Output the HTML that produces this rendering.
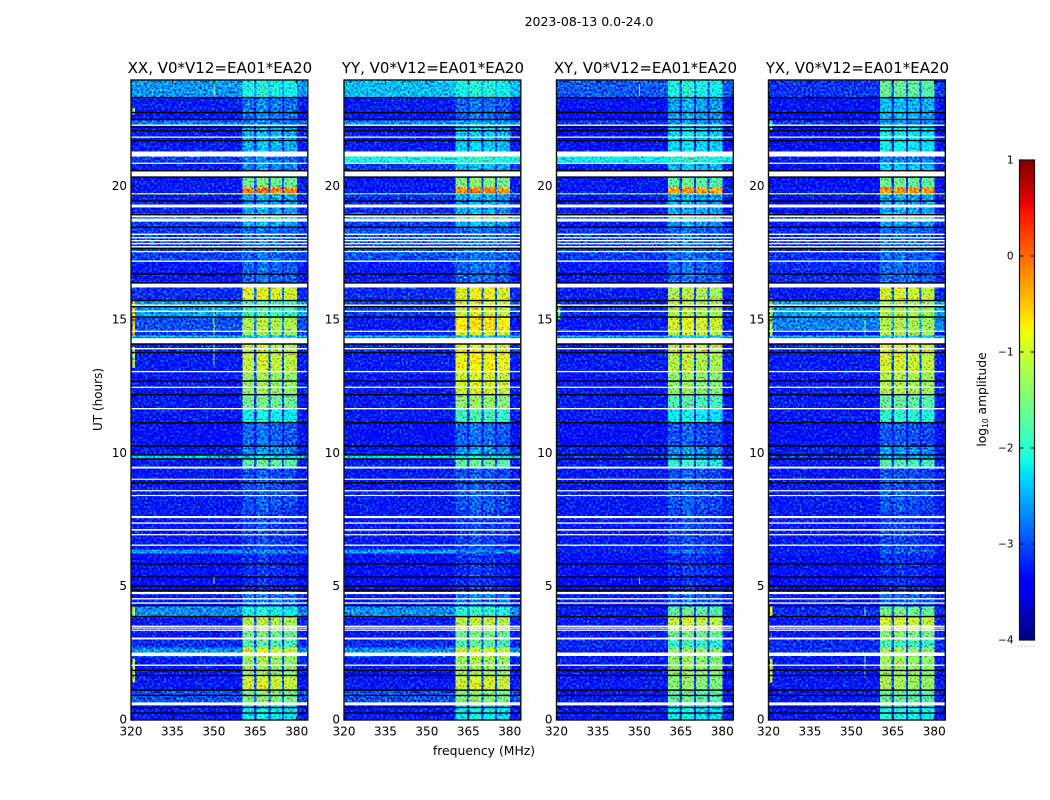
<!DOCTYPE html>
<html lang="en">
<head>
<meta charset="utf-8">
<title>2023-08-13 dynamic spectra</title>
<style>
html,body{margin:0;padding:0;background:#fff;width:1050px;height:800px;overflow:hidden}
svg{display:block}
text{font-family:"DejaVu Sans","Liberation Sans",sans-serif;fill:#000}
</style>
</head>
<body>
<svg id="figure" xmlns="http://www.w3.org/2000/svg" width="1050" height="800" viewBox="0 0 1050 800">
<defs>
<filter id="speckle" x="0" y="0" width="100%" height="100%" color-interpolation-filters="sRGB">
<feTurbulence type="fractalNoise" baseFrequency="0.48" numOctaves="1" seed="7" result="n"/>
<feColorMatrix in="n" type="matrix" values="0 0 0 0 0.5  1 0 0 0 0  0.5 0 0 0 0.25  0 0 0 0 1" result="m"/>
<feComposite in="SourceGraphic" in2="m" operator="arithmetic" k1="0" k2="1" k3="2" k4="-1"/>
</filter>
</defs>
<text x="589" y="26" text-anchor="middle" font-size="12.5">2023-08-13 0.0-24.0</text>
<text x="484" y="755" text-anchor="middle" font-size="12.4">frequency (MHz)</text>
<text transform="translate(102,399.5) rotate(-90)" text-anchor="middle" font-size="12">UT (hours)</text>
<text transform="translate(986,399.5) rotate(-90)" text-anchor="middle" font-size="12.3">log<tspan font-size="7.5" dy="2">10</tspan><tspan dy="-2"> amplitude</tspan></text>
</svg>
<script>
// ---- Data (log10 amplitude; hours and MHz) ----
const panelNames = ["XX", "YY", "XY", "YX"];
const panelTitleSuffix = ", V0*V12=EA01*EA20";
const xTicks = [320, 335, 350, 365, 380];
const yTicks = [0, 5, 10, 15, 20];
const colorbarTicks = [1, 0, -1, -2, -3, -4];

// time segment edges, top to bottom
const segmentHours = [24,23.34,22.48,22.29,21.13,20.90,20.34,19.97,19.74,18.99,18.80,18.50,17.23,16.22,15.73,15.09,14.60,14.42,14.34,13.74,13.03,12.17,11.64,11.15,10.25,9.92,9.77,9.47,7.86,6.39,6.24,4.86,4.26,3.84,3.36,2.98,2.72,2.38,1.63,1.11,0.66,0];

// off-band background level per segment, one array per product
const bgXX = [-2.65,-3.3,-2.8,-3.3,-3.1,-3.3,-3.3,-3.3,-3.3,-2.6,-3.1,-3.1,-3.3,-3.2,-2.6,-3.0,-3.1,-2.4,-3.2,-3.3,-3.3,-3.3,-3.3,-3.4,-3.3,-2.4,-3.3,-3.3,-3.3,-2.7,-3.4,-3.3,-2.7,-3.3,-3.3,-3.2,-2.7,-3.3,-3.3,-3.0,-3.3];
const bgYY = [-2.45,-3.3,-2.7,-3.3,-2.1,-3.1,-3.3,-3.3,-3.2,-2.4,-3.1,-3.0,-3.3,-3.2,-3.1,-3.3,-3.2,-2.4,-3.2,-3.3,-3.3,-3.3,-3.3,-3.4,-3.3,-2.3,-3.3,-3.3,-3.3,-2.6,-3.4,-3.3,-2.7,-3.3,-3.3,-3.2,-2.7,-3.3,-3.3,-3.0,-3.3];
const bgXY = [-2.95,-3.4,-3.1,-3.4,-2.2,-3.3,-3.3,-3.3,-3.3,-2.8,-3.3,-3.1,-3.3,-3.3,-3.2,-3.3,-3.3,-2.4,-3.3,-3.3,-3.3,-3.3,-3.3,-3.4,-3.3,-3.1,-3.3,-3.3,-3.3,-3.3,-3.4,-3.3,-3.3,-3.3,-3.3,-3.2,-3.3,-3.3,-3.3,-3.3,-3.3];
const bgYX = [-3.15,-3.4,-3.1,-3.4,-3.3,-3.4,-3.4,-3.3,-3.4,-2.9,-3.3,-3.2,-3.2,-3.3,-2.6,-2.75,-3.3,-2.4,-3.2,-3.3,-3.3,-3.3,-3.3,-3.4,-3.3,-3.1,-3.3,-3.3,-3.3,-3.3,-3.4,-3.3,-3.2,-3.3,-3.3,-3.2,-3.2,-3.3,-3.3,-3.3,-3.3];

// in-band level per segment (360–380 MHz block), one array per product
const bandXX = [-2.1,-2.8,-2.8,-2.5,-2.8,-2.7,-1.6,-0.1,-2.6,-1.8,-2.5,-2.9,-2.9,-1.0,-1.8,-1.2,-1.35,-2.4,-1.15,-1.1,-1.35,-1.6,-2.15,-2.9,-2.7,-2.3,-1.7,-3.0,-3.1,-2.8,-3.2,-2.8,-2.1,-1.2,-1.6,-1.8,-1.05,-1.35,-1.05,-1.5,-2.2];
const bandYY = [-2.1,-2.9,-2.6,-2.4,-2.0,-2.5,-1.5,-0.2,-2.6,-1.15,-2.5,-2.9,-2.9,-0.95,-1.05,-0.75,-1.0,-2.4,-0.95,-0.85,-1.05,-1.4,-1.9,-2.9,-2.7,-2.2,-1.7,-3.0,-3.1,-2.8,-3.2,-2.8,-2.0,-1.15,-1.6,-1.8,-1.05,-1.35,-1.05,-1.5,-2.2];
const bandXY = [-2.1,-2.6,-2.7,-2.3,-2.0,-2.5,-1.7,-0.3,-2.6,-1.7,-2.6,-2.9,-2.9,-1.25,-1.25,-1.0,-1.15,-2.4,-1.15,-1.2,-1.4,-1.8,-2.2,-3.0,-2.7,-2.6,-2.0,-3.0,-3.1,-2.9,-3.2,-2.9,-1.7,-1.1,-1.6,-2.0,-1.4,-1.4,-1.45,-1.7,-2.2];
const bandYX = [-1.7,-2.5,-2.7,-2.2,-2.8,-2.4,-1.65,-0.25,-2.6,-1.6,-2.6,-2.9,-2.9,-1.05,-1.25,-1.25,-1.25,-2.4,-1.05,-1.05,-1.25,-1.7,-2.0,-3.0,-2.7,-2.6,-1.8,-3.0,-3.1,-2.9,-3.2,-2.9,-1.6,-1.05,-1.5,-1.9,-1.35,-1.35,-1.3,-1.7,-2.1];

// sub-band offsets for the four 5 MHz blocks
const zoneOffsets = [[0,0.1,0,-0.05],[0,0.1,0.05,-0.05],[0,0.1,0,-0.05],[0.05,0.05,0,-0.05]];
const bandEdgesMHz = [[360.4,364.6],[365.5,369.7],[370.5,374.6],[375.4,380]];

// bright edge-of-band interference: [panel, hour from, hour to, level]
const edgeRfi = [
 [0,15.73,14.42,-0.5],[0,14.0,13.2,-1.1],[0,4.26,3.9,-1.0],[0,2.3,1.4,-1.0],[0,22.95,22.7,-1.2],
 [2,15.6,15.0,-1.6],
 [3,15.7,14.4,-1.2],[3,4.26,3.9,-0.8],[3,2.3,1.4,-1.0],[3,22.48,22.1,-1.8]
];
// thin vertical interference lines: [panel, MHz, hour from, hour to, level]
const vertRfi = [
 [0,350,15.6,14.4,-1.0],[0,350,14.1,13.3,-1.4],[0,350,5.4,5.1,-1.1],[0,350,24,23.4,-1.1],
 [2,350,24,23.4,-1.0],[2,350,5.4,5.1,-1.5],
 [3,355,15.1,14.4,-1.4],[3,355,2.5,1.6,-1.5],[3,355,4.3,3.9,-1.6]
];
// thin full-width interference rows: [panel, hour from, hour to, level]
const rowRfi = [[0,19.76,19.71,-1.0],[2,19.76,19.71,-1.5],[3,19.76,19.71,-1.0],[1,19.76,19.71,-1.9]];

// blank (no-data) rows, hours from/to
const blankRows = [[22.33,22.28],[21.88,21.84],[21.32,21.13],[20.90,20.86],[20.57,20.38],[19.33,19.22],[18.92,18.86],[18.80,18.69],[18.24,18.19],[18.11,18.06],[18.00,17.95],[17.89,17.84],[17.77,17.72],[17.59,17.54],[17.23,17.18],[16.37,16.22],[15.58,15.53],[15.35,15.30],[14.60,14.56],[14.32,14.12],[13.95,13.90],[13.09,13.04],[12.50,12.46],[11.70,11.65],[9.50,9.43],[9.05,9.01],[8.62,8.58],[8.44,8.40],[7.65,7.57],[7.41,7.36],[7.16,7.10],[6.97,6.93],[6.58,6.53],[4.80,4.72],[4.57,4.52],[4.41,4.36],[3.54,3.49],[3.47,3.43],[3.39,3.36],[3.09,3.02],[2.53,2.40],[2.08,2.03],[0.66,0.55]];
// dark flagged rows, hour centres
const darkRows = [23.34,22.78,22.52,22.23,22.10,21.73,20.60,20.36,19.46,18.95,18.48,17.68,16.72,16.39,15.73,15.50,15.11,14.10,13.78,12.71,12.20,11.15,10.27,9.94,9.79,8.90,5.85,5.36,5.02,4.86,4.29,3.88,1.86,1.67,1.12,0.92,0.47,0.26];

const bgByPanel = [bgXX, bgYY, bgXY, bgYX];
const bandByPanel = [bandXX, bandYY, bandXY, bandYX];

// ---- Layout and scales ----
const NS = "http://www.w3.org/2000/svg";
const svg = document.getElementById("figure");
const panelLeft = [131, 344, 556.5, 768.5];
const panelWidth = 176.8, plotTop = 80, plotBottom = 720;
const xMin = 320, xMax = 384, hMin = 0, hMax = 24;
const vMin = -4, vMax = 1;
function xScale(i, mhz){ return panelLeft[i] + (mhz - xMin) / (xMax - xMin) * panelWidth; }
function yScale(h){ return plotBottom - (h - hMin) / (hMax - hMin) * (plotBottom - plotTop); }
function lerpStops(stops, t){
  for (let k = 1; k < stops.length; k++) {
    if (t <= stops[k][0]) {
      const a = stops[k-1], b = stops[k];
      return a[1] + (b[1]-a[1]) * (t-a[0]) / (b[0]-a[0]);
    }
  }
  return stops[stops.length-1][1];
}
const jetR = [[0,0],[0.35,0],[0.66,1],[0.89,1],[1,0.5]];
const jetG = [[0,0],[0.125,0],[0.375,1],[0.64,1],[0.91,0],[1,0]];
const jetB = [[0,0.5],[0.11,1],[0.34,1],[0.65,0],[1,0]];
function colorOf(v){
  const t = Math.max(0, Math.min(1, (v - vMin) / (vMax - vMin)));
  const c = s => Math.round(lerpStops(s, t) * 255);
  return "rgb(" + c(jetR) + "," + c(jetG) + "," + c(jetB) + ")";
}
function mk(tag, attrs, parent){
  const el = document.createElementNS(NS, tag);
  for (const k in attrs) el.setAttribute(k, attrs[k]);
  parent.appendChild(el);
  return el;
}

// ---- Panels ----
panelNames.forEach(function(name, i){
  const key = name.toLowerCase();
  const g = mk("g", {}, svg);
  
  

  const heat = mk("g", {filter: "url(#speckle)", "shape-rendering": "crispEdges"}, g);
  
  

  function cell(f0, f1, h0, h1, v, label){
    const x0 = xScale(i, f0), x1 = xScale(i, f1), y0 = yScale(h0), y1 = yScale(h1);
    const r = mk("rect", {x: x0, y: y0, width: x1 - x0, height: y1 - y0, fill: colorOf(v)}, heat);
    
    
  }

  for (let s = 0; s < segmentHours.length - 1; s++) {
    const h0 = segmentHours[s], h1 = segmentHours[s+1];
    const bg = bgByPanel[i][s], band = bandByPanel[i][s];
    cell(xMin, xMax, h0, h1, bg, 'heatmap-background-cell');
    cell(bandEdgesMHz[0][0], bandEdgesMHz[3][1], h0, h1, bg + 0.15 * (band - bg), 'heatmap-band-gap-cell');
    bandEdgesMHz.forEach(function(edge, z){
      cell(edge[0], edge[1], h0, h1, band + zoneOffsets[i][z], 'heatmap-band-cell');
    });
  }
  edgeRfi.filter(e => e[0] === i).forEach(function(e){
    cell(320.6, 321.5, e[1], e[2], e[3], 'heatmap-edge-rfi-cell');
  });
  vertRfi.filter(e => e[0] === i).forEach(function(e){
    cell(e[1] - 0.2, e[1] + 0.2, e[2], e[3], e[4], 'heatmap-vertical-rfi-cell');
  });
  rowRfi.filter(e => e[0] === i).forEach(function(e){
    cell(xMin, xMax, e[1], e[2], e[3], 'heatmap-row-rfi-cell');
  });

  blankRows.forEach(function(b){
    const r = mk("rect", {x: panelLeft[i], y: yScale(b[0]), width: panelWidth, height: Math.max(1.2, yScale(b[1]) - yScale(b[0])), fill: "#fff"}, g);
    
    
  });
  darkRows.forEach(function(h){
    const r = mk("rect", {x: panelLeft[i], y: yScale(h) - 0.7, width: panelWidth, height: 1.4, fill: "#000"}, g);
    
    
  });

  const frame = mk("rect", {x: panelLeft[i], y: plotTop, width: panelWidth, height: plotBottom - plotTop, fill: "none", stroke: "#111", "stroke-width": 1.4}, g);
  
  

  xTicks.forEach(function(t){
    const x = xScale(i, t);
    const a = mk("path", {d: "M" + x + " " + plotBottom + "v-4M" + x + " " + plotTop + "v4", stroke: "#000", "stroke-width": 0.9, fill: "none"}, g);
    
    
    const l = mk("text", {x: x, y: plotBottom + 15.5, "text-anchor": "middle", "font-size": 12}, g);
    l.textContent = t;
    
    
  });
  yTicks.forEach(function(t){
    const y = yScale(t), xl = panelLeft[i], xr = xl + panelWidth;
    const a = mk("path", {d: "M" + xl + " " + y + "h4M" + xr + " " + y + "h-4", stroke: "#000", "stroke-width": 0.9, fill: "none"}, g);
    
    
    const l = mk("text", {x: xl - 4, y: y + 3.5, "text-anchor": "end", "font-size": 12}, g);
    l.textContent = t;
    
    
  });

  const title = mk("text", {x: panelLeft[i] + panelWidth / 2 + 0.5, y: 73, "text-anchor": "middle", "font-size": 15}, g);
  title.textContent = name + panelTitleSuffix;
  
  
});

// ---- Colorbar ----
const cbLeft = 1019.5, cbWidth = 15, cbTop = 160, cbBottom = 640;
function cbScale(v){ return cbBottom - (v - vMin) / (vMax - vMin) * (cbBottom - cbTop); }
const cb = mk("g", {"shape-rendering": "crispEdges"}, svg);


const cbSteps = 256;
for (let k = 0; k < cbSteps; k++) {
  const v0 = vMin + (vMax - vMin) * k / cbSteps;
  const v1 = vMin + (vMax - vMin) * (k + 1) / cbSteps;
  const r = mk("rect", {x: cbLeft, y: cbScale(v1), width: cbWidth, height: cbScale(v0) - cbScale(v1) + 0.5, fill: colorOf(v0)}, cb);
  
  
}
const cbFrame = mk("rect", {x: cbLeft, y: cbTop, width: cbWidth, height: cbBottom - cbTop, fill: "none", stroke: "#111", "stroke-width": 1.2}, svg);


colorbarTicks.forEach(function(t){
  const y = cbScale(t);
  const a = mk("path", {d: "M" + cbLeft + " " + y + "h4M" + (cbLeft + cbWidth) + " " + y + "h-4", stroke: "#000", "stroke-width": 0.9, fill: "none"}, svg);
  
  
  const l = mk("text", {x: cbLeft - 6, y: y + 3.5, "text-anchor": "end", "font-size": 10.5}, svg);
  l.textContent = t < 0 ? "\u2212" + Math.abs(t) : String(t);
  
  
});
const dots = mk("path", {d: "M1018 646H1035", stroke: "#aaa", "stroke-width": 1, "stroke-dasharray": "1 2", fill: "none"}, svg);


</script>
</body>
</html>
